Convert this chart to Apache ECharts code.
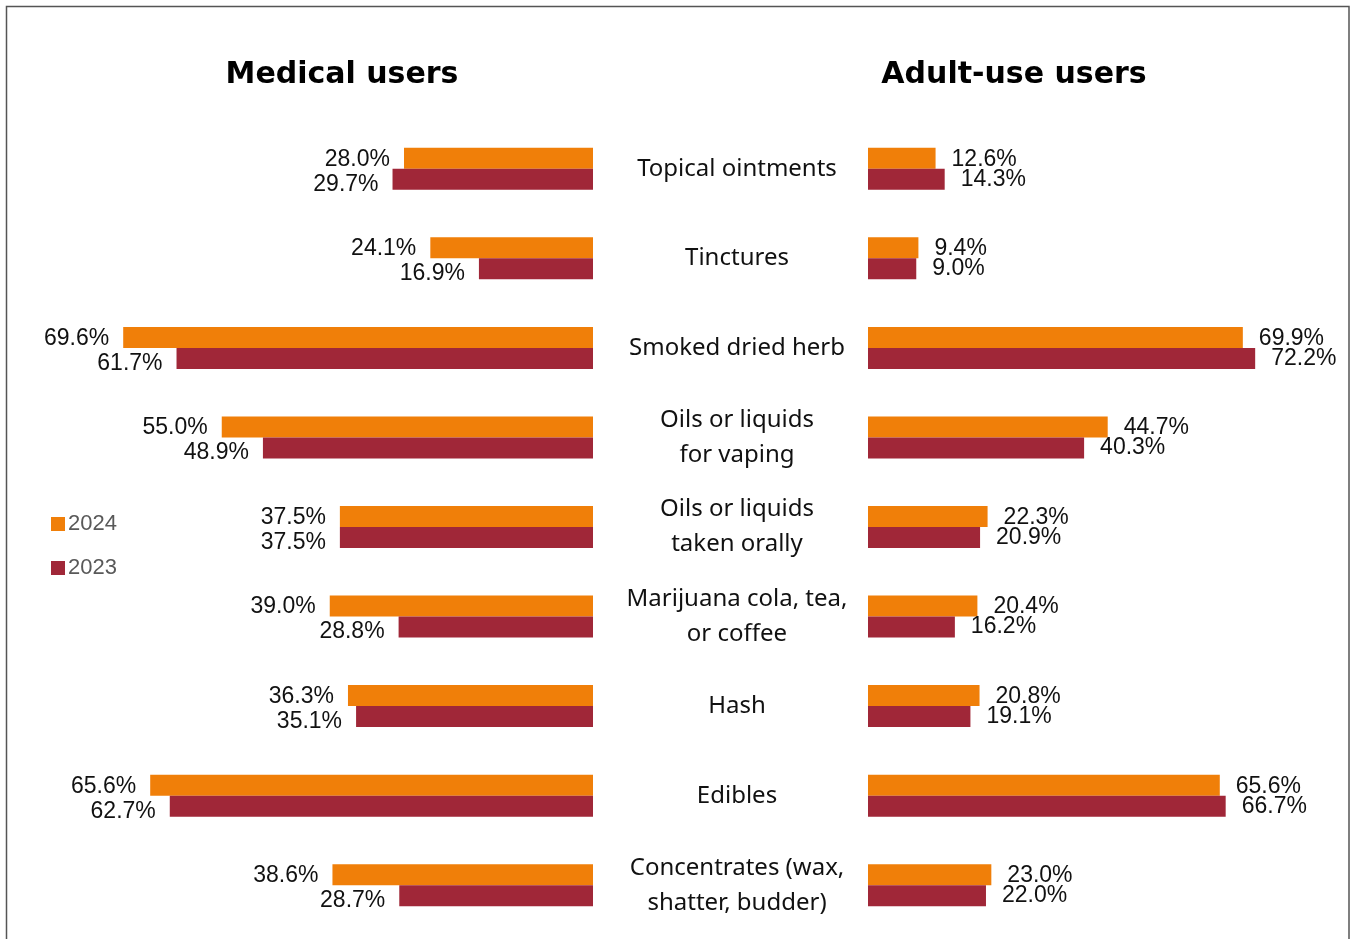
<!DOCTYPE html>
<html>
<head>
<meta charset="utf-8">
<script src="https://cdn.jsdelivr.net/npm/echarts@6/dist/echarts.min.js"></script>
<style>
  html, body { margin: 0; padding: 0; background: #fff; }
  #chart { width: 1351px; height: 939px; }
</style>
</head>
<body>
<div id="chart"></div>
<script>
const categories = [
  'Topical ointments',
  'Tinctures',
  'Smoked dried herb',
  'Oils or liquids\nfor vaping',
  'Oils or liquids\ntaken orally',
  'Marijuana cola, tea,\nor coffee',
  'Hash',
  'Edibles',
  'Concentrates (wax,\nshatter, budder)'
]
const medical2024 = [28.0, 24.1, 69.6, 55.0, 37.5, 39.0, 36.3, 65.6, 38.6]
const medical2023 = [29.7, 16.9, 61.7, 48.9, 37.5, 28.8, 35.1, 62.7, 28.7]
const adult2024 = [12.6, 9.4, 69.9, 44.7, 22.3, 20.4, 20.8, 65.6, 23.0]
const adult2023 = [14.3, 9.0, 72.2, 40.3, 20.9, 16.2, 19.1, 66.7, 22.0]

const ORANGE = '#F07F09'
const RED = '#A02738'

let myChart = echarts.init(document.getElementById('chart'))

const valueLabel = (pos, dist, offset) => ({
  show: true,
  position: pos,
  distance: dist,
  offset: offset,
  color: '#111',
  fontFamily: 'Liberation Sans, Arial, sans-serif',
  fontSize: 23,
  formatter: (p) => p.value.toFixed(1) + '%'
})

let option = {
  animation: false,
  title: [
    {
      text: 'Medical users',
      left: 337, top: 55, textAlign: 'center',
      textStyle: { fontFamily: 'DejaVu Sans', fontWeight: 'bold', fontSize: 30, color: '#000' }
    },
    {
      text: 'Adult-use users',
      left: 1009, top: 55, textAlign: 'center',
      textStyle: { fontFamily: 'DejaVu Sans', fontWeight: 'bold', fontSize: 30, color: '#000' }
    }
  ],
  legend: {
    orient: 'vertical',
    left: 46, top: 508,
    icon: 'rect',
    itemWidth: 14, itemHeight: 14,
    itemGap: 22,
    data: ['2024', '2023'],
    textStyle: { color: '#595959', fontFamily: 'Liberation Sans, Arial, sans-serif', fontSize: 22, padding: [0, 0, 0, -2] }
  },
  graphic: [
    {
      type: 'rect',
      shape: { x: 6.5, y: 6.5, width: 1342.5, height: 940 },
      style: { fill: 'none', stroke: '#555', lineWidth: 1.5 },
      silent: true
    }
  ],
  grid: [
    { left: 53, right: 758, top: 124, bottom: 9 },
    { left: 868, right: 54, top: 124, bottom: 9 }
  ],
  xAxis: [
    { gridIndex: 0, type: 'value', min: 0, max: 80, inverse: true, show: false },
    { gridIndex: 1, type: 'value', min: 0, max: 80, show: false }
  ],
  yAxis: [
    {
      gridIndex: 0, type: 'category', data: categories, inverse: true,
      axisLine: { show: false }, axisTick: { show: false }, axisLabel: { show: false }
    },
    {
      gridIndex: 1, type: 'category', data: categories, inverse: true,
      axisLine: { show: false }, axisTick: { show: false },
      axisLabel: {
        margin: 131,
        align: 'center',
        color: '#111',
        fontFamily: 'Noto Sans, sans-serif',
        fontSize: 24,
        lineHeight: 35,
        padding: [4, 0, 0, 0]
      }
    }
  ],
  series: [
    {
      name: '2024', type: 'bar', xAxisIndex: 0, yAxisIndex: 0,
      data: medical2024, barWidth: 21, barGap: '0%',
      itemStyle: { color: ORANGE },
      label: valueLabel('left', 14, [0, 1])
    },
    {
      name: '2023', type: 'bar', xAxisIndex: 0, yAxisIndex: 0,
      data: medical2023, barWidth: 21, barGap: '0%',
      itemStyle: { color: RED },
      label: valueLabel('left', 14, [0, 5])
    },
    {
      name: '2024', type: 'bar', xAxisIndex: 1, yAxisIndex: 1,
      data: adult2024, barWidth: 21, barGap: '0%',
      itemStyle: { color: ORANGE },
      label: valueLabel('right', 16, [0, 1])
    },
    {
      name: '2023', type: 'bar', xAxisIndex: 1, yAxisIndex: 1,
      data: adult2023, barWidth: 21, barGap: '0%',
      itemStyle: { color: RED },
      label: valueLabel('right', 16, [0, 0])
    }
  ]
}

myChart.setOption(option)
</script>
</body>
</html>
